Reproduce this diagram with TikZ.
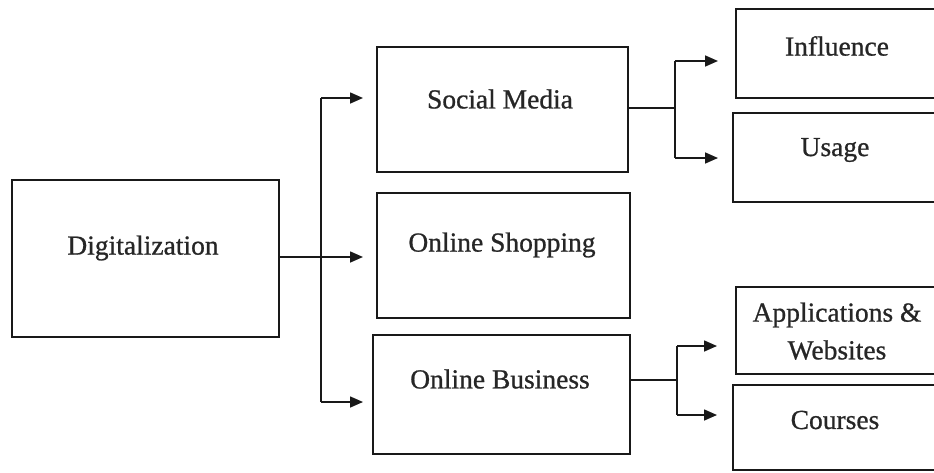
\documentclass[tikz,border=0pt]{standalone}
\usepackage{fontspec}
\setmainfont{Liberation Serif}
\newfontfamily\lblfont{Liberation Serif}[FakeBold=0.8]
\usetikzlibrary{arrows.meta}
\begin{document}
\begin{tikzpicture}[x=1pt,y=-1pt,
  boxshape/.style={draw=black!90,line width=2.2pt},
  lbl/.style={font=\lblfont\fontsize{27.5}{34}\selectfont,inner sep=0pt,align=center,text=black!85},
  conn/.style={line width=1.6pt,draw=black!90},
  arr/.style={conn,-{Triangle[length=13pt,width=11pt]}}]
\useasboundingbox (0,0) rectangle (934,472);
\fill[white] (0,0) rectangle (934,472);
\clip (0,0) rectangle (934,472);
% boxes
\path[boxshape] (12,180) rectangle (279,337);
\node[inner sep=0pt,minimum width=267pt,minimum height=157pt] (dig) at (145.5,258.5) {};
\path[boxshape] (377,47) rectangle (628,172);
\node[inner sep=0pt,minimum width=251pt,minimum height=125pt] (sm) at (502.5,109.5) {};
\path[boxshape] (377,193) rectangle (630,318);
\node[inner sep=0pt,minimum width=253pt,minimum height=125pt] (os) at (503.5,255.5) {};
\path[boxshape] (373,335) rectangle (630,454);
\node[inner sep=0pt,minimum width=257pt,minimum height=119pt] (ob) at (501.5,394.5) {};
\path[boxshape] (736,9) rectangle (950,98);
\path[boxshape] (733,113) rectangle (950,202);
\path[boxshape] (736,287) rectangle (950,374);
\path[boxshape] (733,385) rectangle (950,470);
% texts
\node[lbl] (tdig) at (143,248) {Digitalization};
\node[lbl] (tsm) at (500,99) {Social Media};
\node[lbl] (tos) at (502,245) {Online Shopping};
\node[lbl] (tob) at (500,379) {Online Business};
\node[lbl] (tinf) at (837,46) {Influence};
\node[lbl] (tuse) at (835,150) {Usage};
\node[lbl] (tapp1) at (837,315) {Applications \&};
\node[lbl] (tapp2) at (837,350) {Websites};
\node[lbl] (tcrs) at (835,420) {Courses};
% junction coordinates
\coordinate (j1) at (321,257);
\coordinate (j1t) at (321,98);
\coordinate (j1b) at (321,402);
\coordinate (a1) at (363,98);
\coordinate (a2) at (363,257);
\coordinate (a3) at (363,402);
\coordinate (j2) at (675,108);
\coordinate (j2t) at (675,61);
\coordinate (j2b) at (675,158);
\coordinate (b1) at (718,61);
\coordinate (b2) at (718,158);
\coordinate (j3) at (677,380);
\coordinate (j3t) at (677,346);
\coordinate (j3b) at (677,415);
\coordinate (c1) at (717,346);
\coordinate (c2) at (717,415);
% connectors
\draw[conn] (dig.east |- j1) -- (j1);
\draw[conn] (j1t) -- (j1b);
\draw[arr] (j1t) -- (a1);
\draw[arr] (j1) -- (a2);
\draw[arr] (j1b) -- (a3);
\draw[conn] (sm.east |- j2) -- (j2);
\draw[conn] (j2t) -- (j2b);
\draw[arr] (j2t) -- (b1);
\draw[arr] (j2b) -- (b2);
\draw[conn] (ob.east |- j3) -- (j3);
\draw[conn] (j3t) -- (j3b);
\draw[arr] (j3t) -- (c1);
\draw[arr] (j3b) -- (c2);
\end{tikzpicture}
\end{document}
